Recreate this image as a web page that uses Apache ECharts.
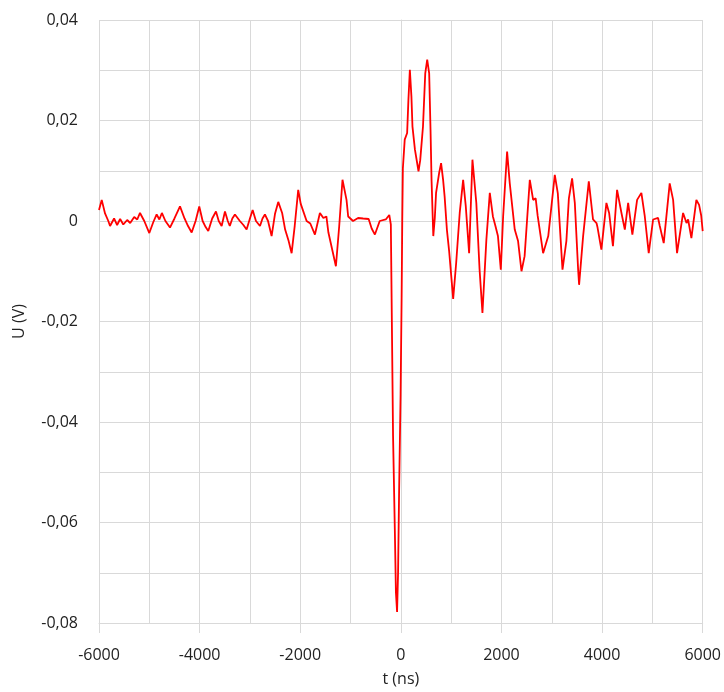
<!DOCTYPE html>
<html><head><meta charset="utf-8">
<script src="https://cdn.jsdelivr.net/npm/echarts@6/dist/echarts.min.js"></script>
<style>html,body{margin:0;padding:0;background:#fff}#c{width:724px;height:692px}</style>
</head><body><div id="c"></div>
<script>
var timeNs = [-6000,-5946,-5880,-5815,-5780,-5700,-5640,-5580,-5517,-5440,-5380,-5300,-5240,-5185,-5100,-5000,-4920,-4854,-4800,-4750,-4680,-4589,-4500,-4390,-4300,-4230,-4158,-4080,-4007,-3940,-3880,-3828,-3750,-3675,-3620,-3562,-3496,-3440,-3400,-3350,-3298,-3200,-3130,-3066,-3000,-2946,-2880,-2800,-2750,-2702,-2640,-2569,-2500,-2437,-2360,-2300,-2230,-2171,-2110,-2040,-1990,-1873,-1800,-1708,-1609,-1540,-1480,-1440,-1291,-1225,-1160,-1080,-1047,-950,-850,-750,-640,-580,-516,-420,-300,-230,-199,-175,-155,-120,-98,-75,-55,-35,-5,15,28,40,77,125,150,179,210,231,280,351,385,440,485,524,563,590,610,645,675,700,760,800,840,870,915,960,1040,1100,1170,1238,1290,1357,1423,1500,1565,1622,1700,1768,1830,1880,1930,1987,2033,2112,2165,2264,2330,2398,2460,2563,2630,2680,2720,2828,2930,3060,3120,3213,3290,3340,3404,3458,3524,3543,3623,3736,3820,3889,3910,3986,4086,4140,4216,4298,4385,4452,4518,4602,4696,4781,4849,4927,5014,5113,5147,5225,5344,5412,5490,5610,5678,5710,5775,5874,5928,5970,6000];
var voltageV = [0.0022,0.0042,0.0015,0.0,-0.001,0.0005,-0.0008,0.0004,-0.0007,0.0002,-0.0004,0.0008,0.0003,0.0016,0.0,-0.0024,-0.0002,0.0013,0.0003,0.0016,0.0,-0.0013,0.0005,0.0029,0.0005,-0.001,-0.0023,0.0,0.0029,0.0,-0.0012,-0.002,0.0005,0.0019,0.0,-0.001,0.0019,0.0,-0.001,0.0005,0.0013,0.0,-0.0008,-0.0017,0.0005,0.0022,0.0,-0.001,0.0005,0.0013,0.0,-0.003,0.0015,0.0038,0.0016,-0.0017,-0.004,-0.0064,-0.001,0.0062,0.0034,0.0,-0.0005,-0.0027,0.0016,0.0006,0.0009,-0.0023,-0.009,-0.001,0.0082,0.0042,0.0009,0.0,0.0006,0.0005,0.0004,-0.0015,-0.0027,0.0,0.0003,0.0012,-0.0007,-0.0236,-0.0428,-0.0613,-0.0739,-0.0778,-0.0699,-0.054,-0.0345,-0.0156,0.0,0.0105,0.0162,0.0175,0.024,0.0301,0.0248,0.0188,0.0142,0.0099,0.0121,0.0188,0.0294,0.0321,0.0294,0.0181,0.0082,-0.003,0.0006,0.0056,0.0095,0.0115,0.0082,0.0049,-0.0017,-0.006,-0.0155,-0.0083,0.0016,0.0082,0.003,-0.0064,0.0122,0.0036,-0.0097,-0.0183,-0.0037,0.0056,0.0009,-0.001,-0.003,-0.0097,0.0009,0.0138,0.0075,-0.0017,-0.004,-0.01,-0.007,0.0082,0.0042,0.0045,0.001,-0.0064,-0.003,0.0092,0.0055,-0.0097,-0.004,0.0045,0.0085,0.0036,-0.0097,-0.0127,-0.003,0.0079,0.0003,-0.0004,-0.0013,-0.0057,0.0036,0.0016,-0.005,0.0062,0.0016,-0.0017,0.0036,-0.0027,0.0042,0.0056,0.0009,-0.0064,0.0003,0.0006,-0.001,-0.0044,0.0075,0.0042,-0.0064,0.0016,-0.0004,0.0003,-0.0034,0.0042,0.0032,0.0011,-0.002];
var xTickStep = 2000, yTickStep = 0.02;

var data = timeNs.map(function(t,i){return [t, voltageV[i]];});
var chart = echarts.init(document.getElementById('c'), null, {renderer:'canvas'});
var gridColor = '#d9d9d9';
var txt = {fontFamily:'Open Sans', fontSize:16, color:'#222'};
chart.setOption({
  animation:false,
  grid:{left:99, right:21, top:20, bottom:68},
  xAxis:{type:'value', min:-6000, max:6000, interval:xTickStep,
    name:'t (ns)', nameLocation:'middle', nameGap:48,
    nameTextStyle:{fontFamily:'Open Sans', fontSize:16, color:'#222'},
    axisLine:{show:true, onZero:false, lineStyle:{color:gridColor}},
    axisTick:{show:true, length:10, lineStyle:{color:gridColor}},
    axisLabel:Object.assign({margin:24, formatter:function(v){return String(Math.round(v));}}, txt),
    splitLine:{show:true, lineStyle:{color:gridColor, width:1}},
    minorTick:{show:false, splitNumber:2},
    minorSplitLine:{show:true, lineStyle:{color:gridColor, width:1}}
  },
  yAxis:{type:'value', min:-0.08, max:0.04, interval:yTickStep,
    name:'U (V)', nameLocation:'middle', nameGap:72, nameRotate:90,
    nameTextStyle:{fontFamily:'Open Sans', fontSize:16, color:'#222'},
    axisLine:{show:true, lineStyle:{color:gridColor}},
    axisTick:{show:true, length:11, lineStyle:{color:gridColor}},
    axisLabel:Object.assign({margin:21, formatter:function(v){return (Math.abs(v)<1e-9?'0':v.toFixed(2).replace('.',','));}}, txt),
    splitLine:{show:true, lineStyle:{color:gridColor, width:1}},
    minorTick:{show:false, splitNumber:2},
    minorSplitLine:{show:true, lineStyle:{color:gridColor, width:1}}
  },
  series:[{type:'line', data:data, showSymbol:false, symbol:'none',
    lineStyle:{color:'#ff0000', width:1.8}, itemStyle:{color:'#ff0000'}}]
});
</script></body></html>
